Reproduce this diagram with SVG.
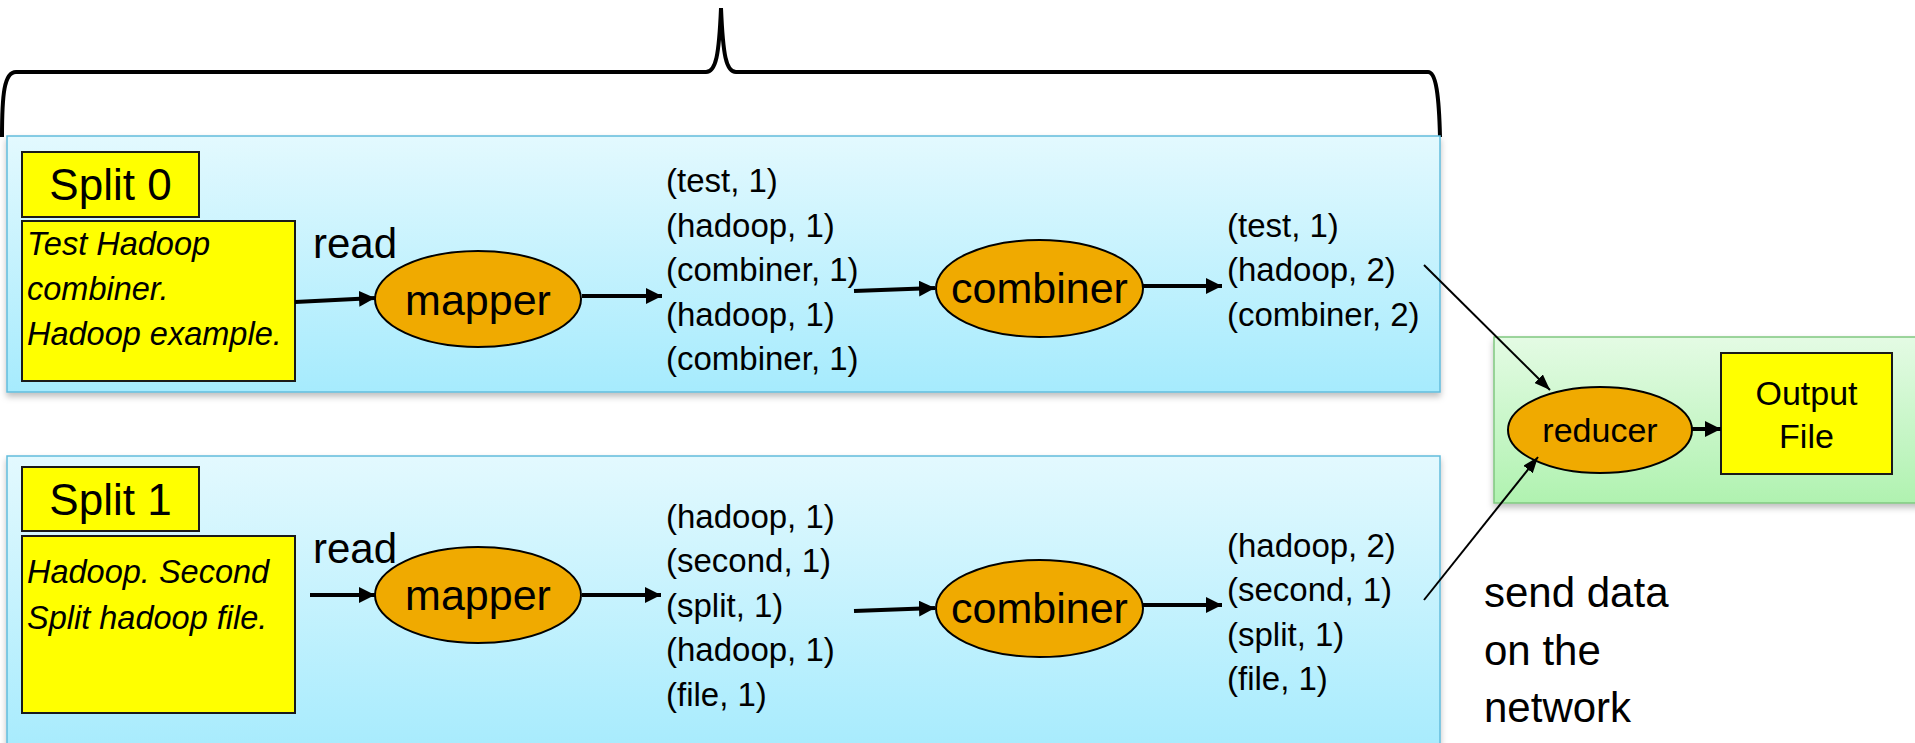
<svg xmlns="http://www.w3.org/2000/svg" width="1915" height="743" viewBox="0 0 1915 743">
<style>
text{font-family:"Liberation Sans",Arial,sans-serif;fill:#000}
.blue{fill:url(#gBlue);stroke:#62bcdc;stroke-width:1.5}
.green{fill:url(#gGreen);stroke:#80c880;stroke-width:1.5}
.yel{fill:#ffff00;stroke:#1a1a1a;stroke-width:2}
.ell{fill:#f0aa00;stroke:#000;stroke-width:2}
.big{font-size:43px;text-anchor:middle}
.lbl{font-size:42px}
.kv{font-size:33px}
.it{font-size:32.5px;font-style:italic}
.split{font-size:44px;text-anchor:middle}
.mid{font-size:34px;text-anchor:middle}
.thick{stroke:#000;stroke-width:4;fill:none;marker-end:url(#ah)}
.thin{stroke:#000;stroke-width:2;fill:none;marker-end:url(#ah2)}
</style>
<defs>
<linearGradient id="gBlue" x1="0" y1="0" x2="0" y2="1">
<stop offset="0" stop-color="#e3f9fe"/>
<stop offset="1" stop-color="#a6ebfd"/>
</linearGradient>
<linearGradient id="gGreen" x1="0" y1="0" x2="0" y2="1">
<stop offset="0" stop-color="#e4fbe4"/>
<stop offset="1" stop-color="#b0f2b0"/>
</linearGradient>
<filter id="sh" x="-5%" y="-5%" width="110%" height="115%">
<feDropShadow dx="0" dy="4" stdDeviation="3" flood-color="#000" flood-opacity="0.25"/>
</filter>
<marker id="ah" viewBox="0 0 10 10" refX="10" refY="5" markerWidth="16" markerHeight="16" markerUnits="userSpaceOnUse" orient="auto">
<path d="M0,0 L10,5 L0,10 z" fill="#000"/>
</marker>
<marker id="ah2" viewBox="0 0 10 10" refX="10" refY="5" markerWidth="16" markerHeight="12" markerUnits="userSpaceOnUse" orient="auto" preserveAspectRatio="none">
<path d="M0,0 L10,5 L0,10 z" fill="#000"/>
</marker>
</defs>
<rect width="1915" height="743" fill="#fff"/>

<g id="brace">
<path d="M 2,137 C 2,95 4,72 16,72 L 706,72 C 716,72 719,55 721,8 C 723,55 726,72 736,72 L 1428,72 C 1436,72 1439,95 1440,137" fill="none" stroke="#000" stroke-width="4"/>
</g>

<g id="panel0">
<rect class="blue" x="7" y="136" width="1433" height="256" filter="url(#sh)"/>
</g>
<g id="panel1">
<rect class="blue" x="7" y="456" width="1433" height="300" filter="url(#sh)"/>
</g>
<g id="panelReduce">
<rect class="green" x="1494" y="337" width="430" height="166" filter="url(#sh)"/>
</g>

<g id="split0">
<rect class="yel" x="22" y="152" width="177" height="65"/>
<text class="split" x="110.5" y="200">Split 0</text>
</g>
<g id="input0">
<rect class="yel" x="22" y="221" width="273" height="160"/>
<text class="it" x="27" y="255">Test Hadoop</text>
<text class="it" x="27" y="300">combiner.</text>
<text class="it" x="27" y="345">Hadoop example.</text>
</g>
<g id="read0"><text class="lbl" x="313" y="258">read</text></g>
<g id="mapper0">
<ellipse class="ell" cx="478" cy="299" rx="103" ry="48"/>
<text class="big" x="478" y="315">mapper</text>
</g>
<g id="map0out">
<text class="kv" x="666" y="192">(test, 1)</text>
<text class="kv" x="666" y="237">(hadoop, 1)</text>
<text class="kv" x="666" y="281">(combiner, 1)</text>
<text class="kv" x="666" y="326">(hadoop, 1)</text>
<text class="kv" x="666" y="370">(combiner, 1)</text>
</g>
<g id="combiner0">
<ellipse class="ell" cx="1039.5" cy="288.5" rx="103.5" ry="48.5"/>
<text class="big" x="1039.5" y="303">combiner</text>
</g>
<g id="comb0out">
<text class="kv" x="1227" y="237">(test, 1)</text>
<text class="kv" x="1227" y="281">(hadoop, 2)</text>
<text class="kv" x="1227" y="326">(combiner, 2)</text>
</g>

<g id="split1">
<rect class="yel" x="22" y="467" width="177" height="64"/>
<text class="split" x="110.5" y="515">Split 1</text>
</g>
<g id="input1">
<rect class="yel" x="22" y="536" width="273" height="177"/>
<text class="it" x="27" y="583">Hadoop. Second</text>
<text class="it" x="27" y="629">Split hadoop file.</text>
</g>
<g id="read1"><text class="lbl" x="313" y="563">read</text></g>
<g id="mapper1">
<ellipse class="ell" cx="478" cy="595" rx="103" ry="48"/>
<text class="big" x="478" y="610">mapper</text>
</g>
<g id="map1out">
<text class="kv" x="666" y="528">(hadoop, 1)</text>
<text class="kv" x="666" y="572">(second, 1)</text>
<text class="kv" x="666" y="617">(split, 1)</text>
<text class="kv" x="666" y="661">(hadoop, 1)</text>
<text class="kv" x="666" y="706">(file, 1)</text>
</g>
<g id="combiner1">
<ellipse class="ell" cx="1039.5" cy="608.5" rx="103.5" ry="48.5"/>
<text class="big" x="1039.5" y="623">combiner</text>
</g>
<g id="comb1out">
<text class="kv" x="1227" y="557">(hadoop, 2)</text>
<text class="kv" x="1227" y="601">(second, 1)</text>
<text class="kv" x="1227" y="646">(split, 1)</text>
<text class="kv" x="1227" y="690">(file, 1)</text>
</g>

<g id="reducer">
<ellipse class="ell" cx="1600" cy="430" rx="92" ry="43"/>
<text class="mid" x="1600" y="442">reducer</text>
</g>
<g id="output">
<rect class="yel" x="1721" y="353" width="171" height="121"/>
<text class="mid" x="1806.5" y="405">Output</text>
<text class="mid" x="1806.5" y="448">File</text>
</g>
<g id="network">
<text class="lbl" x="1484" y="607">send data</text>
<text class="lbl" x="1484" y="665">on the</text>
<text class="lbl" x="1484" y="722">network</text>
</g>

<g id="connectors">
<line class="thick" x1="295" y1="302" x2="375" y2="298"/>
<line class="thick" x1="582" y1="296" x2="662" y2="296"/>
<line class="thick" x1="854" y1="291" x2="935" y2="288"/>
<line class="thick" x1="1143" y1="286" x2="1222" y2="286"/>
<line class="thin" x1="1424" y1="265" x2="1550" y2="390"/>
<line class="thick" x1="310" y1="595" x2="375" y2="595"/>
<line class="thick" x1="582" y1="595" x2="661" y2="595"/>
<line class="thick" x1="854" y1="611" x2="935" y2="608"/>
<line class="thick" x1="1143" y1="605" x2="1222" y2="605"/>
<line class="thin" x1="1424" y1="600" x2="1538" y2="457"/>
<line class="thick" x1="1692" y1="429" x2="1721" y2="429"/>
</g>
</svg>
